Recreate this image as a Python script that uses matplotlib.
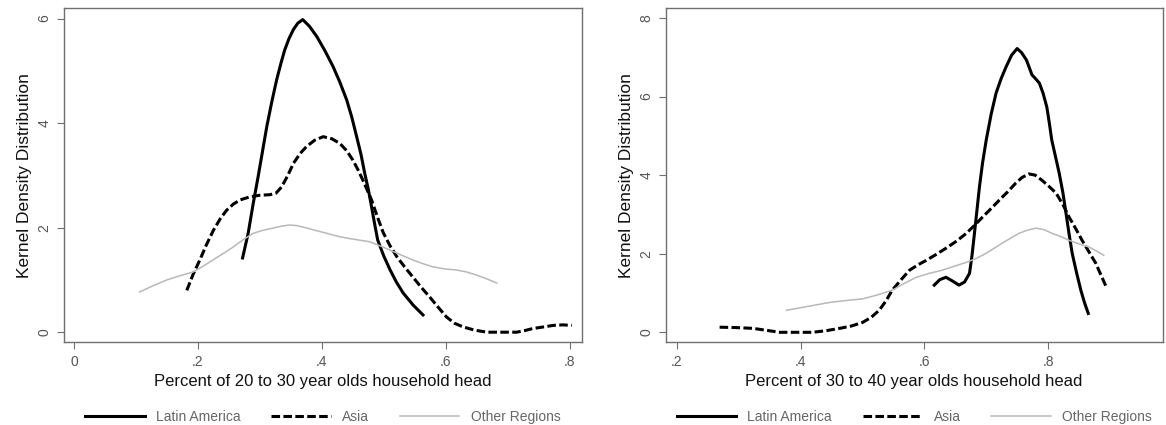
import matplotlib
matplotlib.use("Agg")
import matplotlib.pyplot as plt

plt.rcParams['font.family'] = ['Liberation Sans', 'DejaVu Sans']

# ---- Panel 1: 20 to 30 year olds ----
la1_x = [0.272, 0.281, 0.289, 0.297, 0.304, 0.311, 0.319, 0.327, 0.334, 0.340, 0.347, 0.354, 0.361, 0.369, 0.380, 0.392, 0.405, 0.418, 0.429, 0.440, 0.448, 0.456, 0.463, 0.469, 0.475, 0.480, 0.485, 0.490, 0.500, 0.510, 0.520, 0.531, 0.547, 0.563]
la1_y = [1.42, 1.89, 2.45, 2.97, 3.45, 3.93, 4.40, 4.83, 5.15, 5.40, 5.62, 5.79, 5.91, 5.98, 5.85, 5.65, 5.38, 5.08, 4.78, 4.44, 4.12, 3.74, 3.40, 3.04, 2.72, 2.40, 2.07, 1.76, 1.45, 1.19, 0.96, 0.75, 0.52, 0.33]
as1_x = [0.182, 0.192, 0.203, 0.214, 0.225, 0.236, 0.246, 0.257, 0.268, 0.284, 0.300, 0.316, 0.326, 0.335, 0.345, 0.354, 0.365, 0.375, 0.388, 0.402, 0.416, 0.429, 0.440, 0.450, 0.458, 0.466, 0.473, 0.480, 0.489, 0.499, 0.510, 0.521, 0.534, 0.547, 0.560, 0.574, 0.588, 0.601, 0.614, 0.628, 0.646, 0.666, 0.690, 0.714, 0.727, 0.740, 0.757, 0.773, 0.788, 0.803]
as1_y = [0.80, 1.10, 1.38, 1.68, 1.95, 2.17, 2.33, 2.45, 2.53, 2.59, 2.62, 2.63, 2.66, 2.78, 3.00, 3.23, 3.42, 3.55, 3.67, 3.74, 3.70, 3.61, 3.47, 3.29, 3.11, 2.91, 2.72, 2.53, 2.22, 1.90, 1.65, 1.44, 1.24, 1.05, 0.86, 0.67, 0.47, 0.29, 0.17, 0.10, 0.04, 0.00, 0.00, 0.00, 0.03, 0.07, 0.10, 0.13, 0.14, 0.13]
ot1_x = [0.106, 0.128, 0.150, 0.171, 0.192, 0.208, 0.224, 0.240, 0.257, 0.273, 0.289, 0.305, 0.321, 0.335, 0.348, 0.359, 0.370, 0.389, 0.408, 0.427, 0.445, 0.461, 0.477, 0.494, 0.510, 0.529, 0.547, 0.563, 0.579, 0.598, 0.617, 0.634, 0.650, 0.666, 0.682]
ot1_y = [0.77, 0.89, 1.00, 1.08, 1.15, 1.26, 1.38, 1.50, 1.63, 1.77, 1.89, 1.95, 1.99, 2.03, 2.05, 2.04, 2.01, 1.95, 1.89, 1.83, 1.79, 1.76, 1.73, 1.65, 1.57, 1.47, 1.38, 1.31, 1.25, 1.21, 1.19, 1.15, 1.09, 1.02, 0.94]

# ---- Panel 2: 30 to 40 year olds ----
la2_x = [0.616, 0.625, 0.635, 0.646, 0.656, 0.665, 0.673, 0.677, 0.681, 0.685, 0.689, 0.694, 0.700, 0.708, 0.716, 0.724, 0.732, 0.741, 0.750, 0.757, 0.765, 0.770, 0.774, 0.780, 0.786, 0.792, 0.798, 0.802, 0.806, 0.812, 0.818, 0.824, 0.829, 0.834, 0.839, 0.846, 0.853, 0.859, 0.865]
la2_y = [1.20, 1.34, 1.40, 1.30, 1.20, 1.28, 1.50, 1.95, 2.52, 3.10, 3.69, 4.30, 4.89, 5.55, 6.09, 6.45, 6.75, 7.05, 7.22, 7.12, 6.93, 6.72, 6.55, 6.45, 6.34, 6.08, 5.73, 5.33, 4.89, 4.47, 4.05, 3.55, 3.03, 2.50, 2.01, 1.52, 1.07, 0.75, 0.48]
as2_x = [0.269, 0.296, 0.323, 0.345, 0.366, 0.392, 0.419, 0.441, 0.463, 0.482, 0.500, 0.514, 0.527, 0.538, 0.548, 0.562, 0.576, 0.590, 0.603, 0.619, 0.635, 0.652, 0.668, 0.681, 0.694, 0.708, 0.721, 0.735, 0.748, 0.758, 0.769, 0.779, 0.790, 0.801, 0.813, 0.824, 0.834, 0.845, 0.855, 0.866, 0.877, 0.886, 0.895]
as2_y = [0.13, 0.12, 0.10, 0.05, 0.00, 0.00, 0.00, 0.04, 0.10, 0.16, 0.25, 0.38, 0.56, 0.80, 1.07, 1.33, 1.58, 1.72, 1.83, 1.98, 2.14, 2.32, 2.52, 2.72, 2.93, 3.15, 3.36, 3.58, 3.80, 3.94, 4.03, 4.00, 3.87, 3.72, 3.54, 3.25, 2.93, 2.63, 2.34, 2.05, 1.76, 1.44, 1.12]
ot2_x = [0.377, 0.412, 0.447, 0.474, 0.500, 0.524, 0.548, 0.567, 0.587, 0.608, 0.629, 0.648, 0.668, 0.684, 0.700, 0.713, 0.726, 0.740, 0.753, 0.767, 0.781, 0.794, 0.806, 0.820, 0.834, 0.850, 0.866, 0.878, 0.890]
ot2_y = [0.56, 0.66, 0.76, 0.81, 0.85, 0.95, 1.07, 1.24, 1.40, 1.50, 1.58, 1.68, 1.78, 1.88, 2.01, 2.14, 2.27, 2.40, 2.52, 2.60, 2.65, 2.61, 2.52, 2.44, 2.34, 2.25, 2.17, 2.07, 1.96]

series_labels = ["Latin America", "Asia", "Other Regions"]
xlabels = ["Percent of 20 to 30 year olds household head",
           "Percent of 30 to 40 year olds household head"]
ylabel = "Kernel Density Distribution"
x_ticks1 = [0, 0.2, 0.4, 0.6, 0.8]
x_ticklabels1 = ["0", ".2", ".4", ".6", ".8"]
y_ticks1 = [0, 2, 4, 6]
x_ticks2 = [0.2, 0.4, 0.6, 0.8]
x_ticklabels2 = [".2", ".4", ".6", ".8"]
y_ticks2 = [0, 2, 4, 6, 8]

fig = plt.figure(figsize=(11.66, 4.25), dpi=100)
ax1 = fig.add_axes([0.0549, 0.195, 0.444, 0.786])
ax2 = fig.add_axes([0.571, 0.195, 0.426, 0.786])

grey_txt = '#555555'
spine_c = '#707070'

def style(ax, xt, xtl, yt, xlim, ylim, xlabel):
    ax.set_xlim(*xlim)
    ax.set_ylim(*ylim)
    ax.set_xticks(xt)
    ax.set_xticklabels(xtl)
    ax.set_yticks(yt)
    ax.set_yticklabels([str(v) for v in yt], rotation=90, va='center')
    ax.tick_params(direction='out', length=5, width=0.8, color=spine_c,
                   labelcolor=grey_txt, labelsize=10, pad=4)
    for s in ax.spines.values():
        s.set_color(spine_c)
        s.set_linewidth(1.0)
    ax.set_xlabel(xlabel, fontsize=12, color='#111111', labelpad=4)
    ax.set_ylabel(ylabel, fontsize=12.5, color='#111111', labelpad=4)

def draw(ax, lx, ly, ax_, ay, ox, oy):
    l1, = ax.plot(lx, ly, color='black', lw=2.2, solid_joinstyle='round')
    l2, = ax.plot(ax_, ay, color='black', lw=2.2, linestyle=(0, (2.8, 1.1)))
    l3, = ax.plot(ox, oy, color='#b8b8b8', lw=1.1)
    leg = ax.legend([l1, l2, l3], series_labels, loc='upper center',
                    bbox_to_anchor=(0.5, -0.165), ncol=3, frameon=False,
                    fontsize=10, handlelength=4.3, columnspacing=2.2,
                    handletextpad=0.8)
    for t in leg.get_texts():
        t.set_color('#666666')

draw(ax1, la1_x, la1_y, as1_x, as1_y, ot1_x, ot1_y)
draw(ax2, la2_x, la2_y, as2_x, as2_y, ot2_x, ot2_y)
style(ax1, x_ticks1, x_ticklabels1, y_ticks1, (-0.016, 0.819), (-0.19, 6.2), xlabels[0])
style(ax2, x_ticks2, x_ticklabels2, y_ticks2, (0.182, 0.985), (-0.25, 8.25), xlabels[1])

fig.savefig("out.png", dpi=100)
